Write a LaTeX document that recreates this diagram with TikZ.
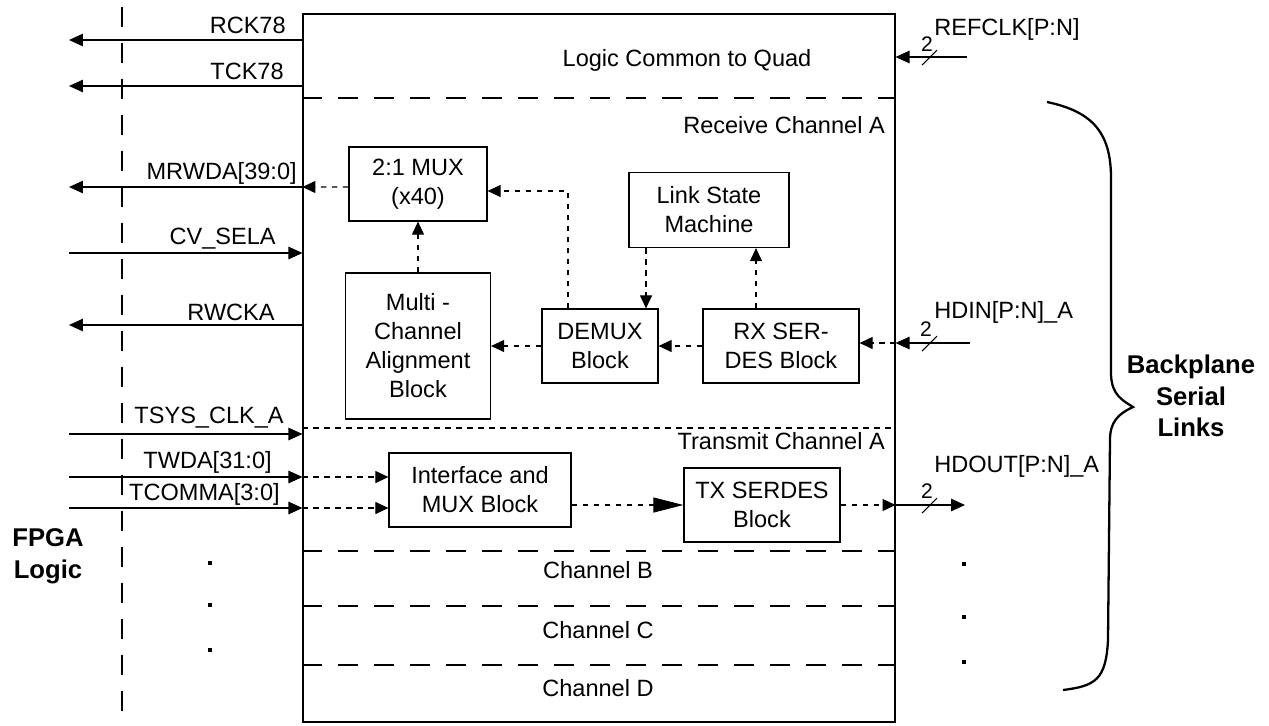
\documentclass[tikz,border=0pt]{standalone}
\usepackage{fontspec}
\setmainfont{Liberation Sans}
\usetikzlibrary{arrows.meta, positioning, calc}

\begin{document}
\begin{tikzpicture}[
  x=0.02cm, y=-0.02cm,
  every node/.style={font=\fontsize{13.4}{16.5}\selectfont},
  block/.style={draw, line width=0.7pt, inner sep=0pt, align=center},
  sig/.style={line width=0.7pt, -{Triangle[length=0.28cm, width=0.25cm]}},
  dotsig/.style={line width=0.6pt, dash pattern=on 0.11cm off 0.11cm, -{Triangle[length=0.26cm, width=0.24cm]}},
  bigsig/.style={line width=0.6pt, dash pattern=on 0.11cm off 0.11cm, -{Triangle[length=0.6cm, width=0.3cm]}},
  split/.style={line width=0.7pt, dash pattern=on 0.4cm off 0.32cm},
  dotsplit/.style={line width=0.6pt, dash pattern=on 0.11cm off 0.11cm},
  sigtext/.style={anchor=east, inner sep=0pt},
  bustext/.style={font=\fontsize{12}{14}\selectfont, inner sep=0pt},
  boldtext/.style={font=\fontsize{14.6}{18}\selectfont\bfseries, align=center},
  dotmk/.style={fill, minimum size=0.09cm, inner sep=0pt},
]
\useasboundingbox (0,0) rectangle (1269,725);

% ---- Quad box and channel split lines ----
\node[block, minimum width=11.84cm, minimum height=14.16cm] (quad) at (599,368) {};

\draw[split] (122,7) -- (122,725);
\draw[split] (quad.west |- 0,98) -- (quad.east |- 0,98);
\draw[dotsplit] (quad.west |- 0,428) -- (quad.east |- 0,428);
\draw[split] (quad.west |- 0,551) -- (quad.east |- 0,551);
\draw[split] (quad.west |- 0,606) -- (quad.east |- 0,606);
\draw[split] (quad.west |- 0,665) -- (quad.east |- 0,665);

\node (common) at (687,60) {Logic Common to Quad};
\node[anchor=east] (rxa) at (891,125) {Receive Channel A};
\node[anchor=east] (txa) at (891,441) {Transmit Channel A};
\node (chb) at (598,570) {Channel B};
\node (chc) at (598,630) {Channel C};
\node (chd) at (598,688) {Channel D};

% ---- Receive blocks ----
\node[block, minimum width=2.76cm, minimum height=1.48cm] (mux) at (418,184) {2:1 MUX\\(x40)};
\node[block, minimum width=2.9cm, minimum height=2.92cm] (mca) at (418,346) {Multi -\\Channel\\Alignment\\Block};
\node[block, minimum width=2.32cm, minimum height=1.48cm] (demux) at (600,346) {DEMUX\\Block};
\node[block, minimum width=3.2cm, minimum height=1.5cm] (lsm) at (709,210) {Link State\\Machine};
\node[block, minimum width=3.12cm, minimum height=1.48cm] (rxs) at (781,346) {RX SER-\\DES Block};

\draw[dotsig] (rxs.west) -- (demux.east);
\draw[dotsig] (demux.west) -- (mca.east);
\draw[dotsig] (mca.north) -- (mux.south);
\draw[dotsig] ([xshift=-0.64cm]demux.north) |- ([yshift=-0.14cm]mux.east);
\draw[dotsig] ([xshift=-1.26cm]lsm.south) -- ([xshift=-1.26cm]lsm.south |- demux.north);
\draw[dotsig] ([xshift=-0.5cm]rxs.north) -- ([xshift=-0.5cm]rxs.north |- lsm.south);

% ---- Transmit blocks ----
\node[block, minimum width=3.64cm, minimum height=1.48cm] (ifm) at (480,490) {Interface and\\MUX Block};
\node[block, minimum width=3.12cm, minimum height=1.48cm] (txs) at (762,505) {TX SERDES\\Block};

\draw[bigsig] (ifm.east |- txs.west) -- (txs.west);

% ---- FPGA side signals ----
\coordinate (rck_out) at (69,40);
\coordinate (tck_out) at (69,86);
\coordinate (mrwda_out) at (69,187);
\coordinate (cvsel_in) at (69,253);
\coordinate (rwck_out) at (69,325);
\coordinate (tsys_in) at (69,434);
\coordinate (twda_in) at (69,477);
\coordinate (tcomma_in) at (69,508);

\draw[sig] (quad.west |- rck_out) -- (rck_out);
\draw[sig] (quad.west |- tck_out) -- (tck_out);
\draw[sig] (quad.west |- mrwda_out) -- (mrwda_out);
\draw[sig] (cvsel_in) -- (quad.west |- cvsel_in);
\draw[sig] (quad.west |- rwck_out) -- (rwck_out);
\draw[sig] (tsys_in) -- (quad.west |- tsys_in);
\draw[sig] (twda_in) -- (quad.west |- twda_in);
\draw[sig] (tcomma_in) -- (quad.west |- tcomma_in);

\draw[dotsig] ([yshift=-0.06cm]mux.west) -- (quad.west |- mrwda_out);
\draw[dotsig] (quad.west |- twda_in) -- (ifm.west |- twda_in);
\draw[dotsig] (quad.west |- tcomma_in) -- (ifm.west |- tcomma_in);

\node[sigtext] (rck_lbl) at (286,25) {RCK78};
\node[sigtext] (tck_lbl) at (284,71) {TCK78};
\node[sigtext] (mrwda_lbl) at (297,173) {MRWDA[39:0]};
\node[sigtext] (cvsel_lbl) at (276,239) {CV\_SELA};
\node[sigtext] (rwck_lbl) at (275,312) {RWCKA};
\node[sigtext] (tsys_lbl) at (284,418) {TSYS\_CLK\_A};
\node[sigtext] (twda_lbl) at (272,462) {TWDA[31:0]};
\node[sigtext] (tcomma_lbl) at (280,494) {TCOMMA[3:0]};

% ---- Serial link side signals ----
\coordinate (refclk_in) at (967,57);
\coordinate (hdin_in) at (970,343);
\coordinate (hdout_out) at (965,505);

\draw[sig] (refclk_in) -- (quad.east |- refclk_in);
\draw[sig] (hdin_in) -- (quad.east |- hdin_in);
\draw[dotsig] (quad.east |- hdin_in) -- (rxs.east |- hdin_in);
\draw[dotsig] (txs.east) -- (quad.east |- txs.east);
\draw[sig] (quad.east |- hdout_out) -- (hdout_out);

% bus width marks
\draw[line width=0.6pt] (922,65) -- (937,50);
\draw[line width=0.6pt] (922,351) -- (937,336);
\draw[line width=0.6pt] (922,513) -- (937,498);
\node[bustext] (refclk_w) at (927,44) {2};
\node[bustext] (hdin_w) at (926,329) {2};
\node[bustext] (hdout_w) at (927,491) {2};

\node[anchor=west, inner sep=0pt] (refclk_lbl) at (934,29) {REFCLK[P:N]};
\node[anchor=west, inner sep=0pt] (hdin_lbl) at (934,312) {HDIN[P:N]\_A};
\node[anchor=west, inner sep=0pt] (hdout_lbl) at (934,466) {HDOUT[P:N]\_A};

% ---- Dots for more channels ----
\node[dotmk] (ldot1) at (210,563) {};
\node[dotmk] (ldot2) at (210,605) {};
\node[dotmk] (ldot3) at (210,650) {};
\node[dotmk] (rdot1) at (964,564) {};
\node[dotmk] (rdot2) at (964,617) {};
\node[dotmk] (rdot3) at (964,662) {};

% ---- Brace and side titles ----
\draw[line width=1.3pt] (1047,102) .. controls (1095,112) and (1110,135) .. (1111,175)
  -- (1111,375) .. controls (1112,395) and (1122,400) .. (1133,407)
  .. controls (1118,414) and (1110,422) .. (1110,440)
  -- (1108,640) .. controls (1106,680) and (1095,686) .. (1063,690);

\node[boldtext] (backplane) at (1191,396) {Backplane\\Serial\\Links};
\node[boldtext] (fpga) at (48,556) {FPGA\\Logic};

\end{tikzpicture}
\end{document}
